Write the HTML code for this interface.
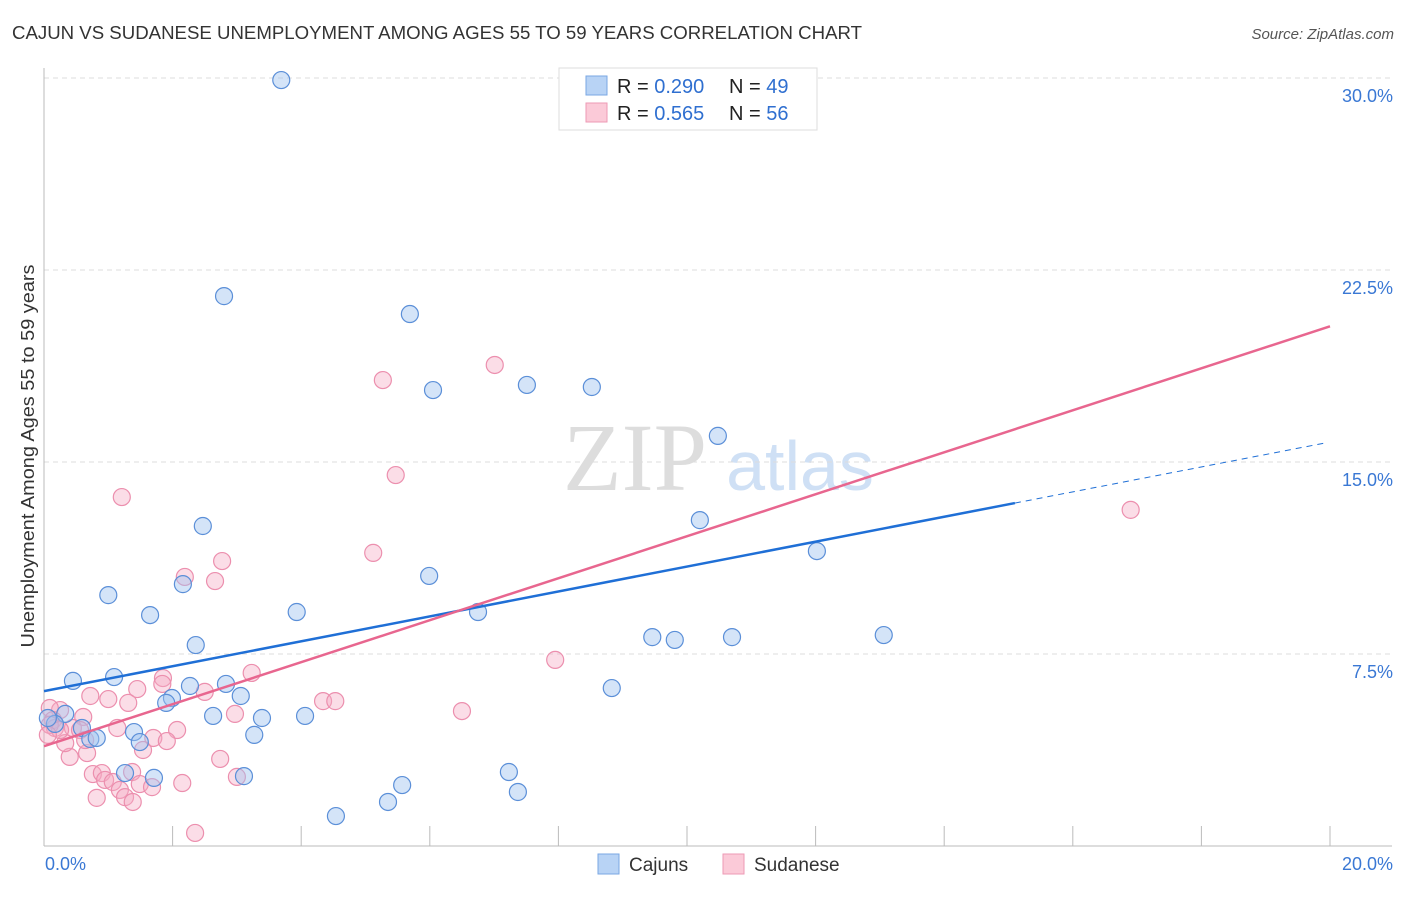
<!DOCTYPE html>
<html><head><meta charset="utf-8"><style>
body{margin:0;background:#fff;font-family:"Liberation Sans",sans-serif}
svg text{font-family:"Liberation Sans",sans-serif}
</style></head><body>
<svg id="c" width="1406" height="892">
<text x="12" y="39" font-size="18" fill="#333" textLength="850" lengthAdjust="spacingAndGlyphs">CAJUN VS SUDANESE UNEMPLOYMENT AMONG AGES 55 TO 59 YEARS CORRELATION CHART</text>
<text x="1394" y="39" font-size="15" fill="#555" font-style="italic" text-anchor="end">Source: ZipAtlas.com</text>
<text x="34" y="456" font-size="18" fill="#333" text-anchor="middle" textLength="383" lengthAdjust="spacingAndGlyphs" transform="rotate(-90 34 456)">Unemployment Among Ages 55 to 59 years</text>
<g><text x="635" y="490" font-size="96" fill="#ddd" text-anchor="middle" font-family="Liberation Serif" style="font-family:'Liberation Serif',serif">ZIP</text><text x="800" y="490" font-size="70" fill="#cfe0f5" text-anchor="middle">atlas</text></g>
<g id="grid"></g><g id="axes"></g><g id="pts"></g><g id="lines"></g>
<g>
<rect x="559" y="68" width="258" height="62" fill="#fff" stroke="#ddd"/>
<rect x="586" y="76" width="21" height="19" fill="#b8d3f5" stroke="#7aa7e3"/>
<rect x="586" y="103" width="21" height="19" fill="#fbcad8" stroke="#ee9ab5"/>
<text x="617" y="93" font-size="20" fill="#222">R = <tspan fill="#2f6fd0">0.290</tspan></text>
<text x="729" y="93" font-size="20" fill="#222">N = <tspan fill="#2f6fd0">49</tspan></text>
<text x="617" y="120" font-size="20" fill="#222">R = <tspan fill="#2f6fd0">0.565</tspan></text>
<text x="729" y="120" font-size="20" fill="#222">N = <tspan fill="#2f6fd0">56</tspan></text>
</g>
<g>
<rect x="598" y="854" width="21" height="20" fill="#b8d3f5" stroke="#7aa7e3"/>
<text x="629" y="871" font-size="19" fill="#333">Cajuns</text>
<rect x="723" y="854" width="21" height="20" fill="#fbcad8" stroke="#ee9ab5"/>
<text x="754" y="871" font-size="19" fill="#333">Sudanese</text>
</g>
</svg>
<script>
const yTicks=[7.5,15,22.5,30];
const yTickLabels=["7.5%","15.0%","22.5%","30.0%"];
const xTickLabels=["0.0%","20.0%"];
const cajunX=[3.69,2.80,5.69,6.05,7.51,8.52,10.48,10.20,12.02,2.47,5.99,1.00,1.65,2.16,3.93,6.75,9.46,9.81,10.70,13.06,2.36,8.83,0.45,1.09,1.99,2.27,2.83,3.06,1.90,2.63,3.39,4.06,0.33,0.59,0.17,0.06,1.40,1.49,3.27,0.72,0.82,1.26,1.71,3.11,5.57,7.23,7.37,5.35,4.54];
const cajunY=[29.92,21.48,20.78,17.81,18.01,17.93,16.02,12.73,11.52,12.50,10.55,9.80,9.02,10.23,9.14,9.14,8.16,8.05,8.16,8.24,7.85,6.17,6.45,6.60,5.78,6.25,6.33,5.86,5.59,5.08,5.00,5.08,5.16,4.61,4.77,5.00,4.45,4.06,4.34,4.18,4.22,2.85,2.66,2.73,2.38,2.89,2.11,1.72,1.17];
const sudX=[0.72,1.00,1.45,1.31,1.85,1.84,2.50,3.23,2.97,4.34,4.53,0.61,0.25,0.09,0.14,0.17,0.45,0.56,1.14,1.70,2.07,1.91,1.54,0.40,0.67,0.33,2.74,0.76,0.90,0.95,1.07,1.37,1.49,1.68,1.18,1.26,1.38,0.82,2.15,3.00,2.35,0.09,1.21,2.19,2.66,2.77,5.12,5.47,5.27,7.01,7.95,6.50,16.90,0.25,0.06,0.64];
const sudY=[5.86,5.74,6.13,5.59,6.56,6.33,6.02,6.76,5.16,5.66,5.66,5.04,5.31,5.39,4.92,4.61,4.61,4.53,4.61,4.22,4.53,4.10,3.75,3.48,3.63,4.02,3.40,2.81,2.85,2.58,2.50,2.89,2.42,2.30,2.19,1.91,1.72,1.88,2.46,2.70,0.51,4.73,13.63,10.51,10.35,11.13,11.45,14.49,18.20,18.79,7.27,5.27,13.13,4.53,4.34,4.14];
const cajunTrend=[6.05,15.78]; // y at x=0 and x=20
const sudTrend=[3.9,20.3];
const sx=v=>44+v/20*1286, sy=v=>846-v/7.5*192;
const NS="http://www.w3.org/2000/svg";
function mk(t,a,p){const e=document.createElementNS(NS,t);for(const k in a)e.setAttribute(k,a[k]);p.appendChild(e);return e;}
const grid=document.getElementById('grid'),axes=document.getElementById('axes'),pts=document.getElementById('pts'),lines=document.getElementById('lines');
yTicks.forEach((t,i)=>{
 const l=mk('line',{x1:44,x2:1392,y1:sy(t),y2:sy(t),stroke:'#ddd','stroke-dasharray':'5,4'},grid);
 
 
 const tx=mk('text',{x:1393,y:sy(t)+24,'font-size':18,fill:'#3a78d4','text-anchor':'end'},axes);
 tx.textContent=yTickLabels[i];
 
 
});
mk('line',{x1:44,x2:44,y1:68,y2:846,stroke:'#bbb'},axes);
mk('line',{x1:44,x2:1392,y1:846,y2:846,stroke:'#bbb'},axes);
for(let i=1;i<=10;i++){const x=sx(i*2);const tk=mk('line',{x1:x,x2:x,y1:826,y2:846,stroke:'#bbb'},axes);
 
 }
const xl0=mk('text',{x:45,y:870,'font-size':18,fill:'#3a78d4'},axes);xl0.textContent=xTickLabels[0];


const xl1=mk('text',{x:1393,y:870,'font-size':18,fill:'#3a78d4','text-anchor':'end'},axes);xl1.textContent=xTickLabels[1];


sudX.forEach((x,i)=>{const c=mk('circle',{cx:sx(x),cy:sy(sudY[i]),r:8.5,fill:'rgba(246,170,194,0.4)',stroke:'#ec8fae','stroke-width':1.2},pts);
 
 });
cajunX.forEach((x,i)=>{const c=mk('circle',{cx:sx(x),cy:sy(cajunY[i]),r:8.5,fill:'rgba(160,196,240,0.45)',stroke:'#5b8fd8','stroke-width':1.2},pts);
 
 });
const cy=x=>cajunTrend[0]+(cajunTrend[1]-cajunTrend[0])*x/20;
const b1=mk('line',{x1:sx(0),y1:sy(cy(0)),x2:sx(15.1),y2:sy(cy(15.1)),stroke:'#1f6fd6','stroke-width':2.5},lines);


const b2=mk('line',{x1:sx(15.1),y1:sy(cy(15.1)),x2:sx(19.9),y2:sy(cy(19.9)),stroke:'#1f6fd6','stroke-width':1,'stroke-dasharray':'6,5'},lines);


const p1=mk('line',{x1:sx(0),y1:sy(sudTrend[0]),x2:sx(20),y2:sy(sudTrend[1]),stroke:'#e8668f','stroke-width':2.5},lines);


</script>
</body></html>
